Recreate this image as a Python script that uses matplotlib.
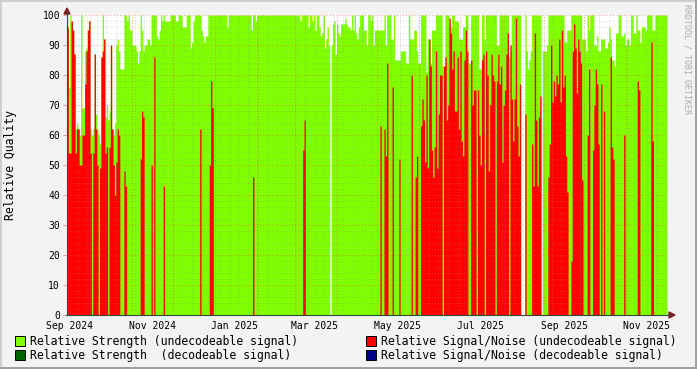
import matplotlib
matplotlib.use('Agg')
import matplotlib.pyplot as plt
import matplotlib.dates as mdates
from matplotlib.patches import Rectangle, Polygon
from matplotlib.lines import Line2D
import numpy as np
import pandas as pd

# Time axis: one value per day
start_date = '2024-09-14'
n_days = 443

# Relative Strength (undecodeable signal) - day offset: value, all other days are 100
strength_dips = {
    0: 96, 1: 76, 3: 98, 4: 95, 5: 87, 6: 62, 7: 64, 8: 62, 9: 60, 11: 69, 12: 69,
    13: 88, 14: 89, 15: 95, 16: 98, 17: 62, 18: 60, 19: 62, 20: 87, 21: 67, 22: 62,
    23: 60, 24: 57, 25: 86, 27: 92, 28: 66, 29: 70, 30: 65, 31: 68, 32: 90, 33: 62,
    34: 60, 35: 64, 36: 90, 37: 92, 38: 88, 39: 82, 40: 82, 41: 82, 44: 98, 46: 95,
    47: 95, 48: 90, 49: 90, 50: 90, 51: 88, 52: 84, 53: 88, 55: 95, 56: 88, 57: 90,
    58: 90, 59: 92, 60: 92, 61: 90, 66: 93, 67: 92, 68: 95, 70: 98, 72: 98, 73: 98,
    74: 98, 75: 98, 80: 98, 81: 98, 85: 96, 86: 96, 87: 96, 91: 89, 92: 91, 93: 98,
    99: 95, 100: 93, 101: 91, 102: 93, 103: 93, 118: 96, 136: 95, 139: 98,
    172: 98, 178: 96, 181: 98, 183: 95, 186: 96, 187: 93, 188: 94, 190: 89, 191: 92,
    192: 96, 193: 90, 194: 0, 195: 90, 196: 97, 197: 98, 198: 87, 199: 97, 200: 94,
    201: 93, 202: 97, 203: 97, 204: 97, 205: 99, 206: 97, 207: 96, 208: 96, 209: 95,
    211: 95, 213: 94, 214: 92, 215: 96,
    219: 95, 220: 95, 221: 90, 224: 98, 226: 90, 227: 95, 228: 95, 229: 95, 230: 95,
    231: 95, 232: 95, 233: 95, 235: 90, 239: 92, 240: 92, 242: 85, 243: 85, 244: 85,
    245: 85, 246: 88, 247: 88, 248: 88, 249: 88, 250: 84, 251: 84, 253: 92, 254: 92,
    255: 92, 256: 95, 257: 95, 258: 88, 259: 84, 260: 84, 265: 81, 266: 92, 267: 92,
    268: 84, 269: 95, 270: 95, 271: 95, 277: 83, 278: 80, 282: 96, 283: 96, 286: 98,
    287: 98, 288: 98, 289: 92, 290: 92, 291: 92, 292: 96, 293: 96,
    296: 84, 297: 84, 304: 82, 305: 82, 308: 92, 317: 90, 318: 90, 326: 86, 327: 88,
    335: 0, 336: 0, 337: 0, 339: 88, 340: 82, 341: 85, 342: 88, 350: 0, 351: 88,
    352: 88, 353: 88, 354: 90,
    367: 91, 368: 91, 369: 95, 370: 95, 371: 95, 380: 92, 381: 92, 382: 92, 383: 88,
    385: 95, 389: 90, 390: 90, 391: 93, 392: 88, 393: 88, 394: 92, 395: 92, 396: 92,
    397: 89, 398: 89, 399: 91, 400: 96, 401: 92, 402: 85, 403: 85, 404: 83, 405: 94,
    406: 94, 409: 93, 410: 93, 411: 94, 412: 90, 413: 92, 414: 92, 415: 90, 418: 94,
    419: 94, 421: 95, 422: 95, 423: 91, 424: 96, 425: 96, 426: 96, 427: 95, 432: 95,
    433: 95,
}

# Relative Signal/Noise (undecodeable signal) - day offset: value, all other days are 0
snr_values = {
    0: 96, 1: 54, 2: 54, 3: 98, 4: 95, 5: 87, 6: 54, 7: 62, 8: 62, 9: 50, 10: 50,
    11: 60, 12: 60, 13: 77, 14: 88, 15: 95, 16: 98, 17: 54, 19: 54, 20: 87, 21: 62,
    22: 50, 24: 49, 25: 86, 26: 88, 27: 92, 28: 54, 29: 56, 31: 56, 32: 90, 33: 62,
    34: 50, 35: 40, 36: 51, 37: 62, 38: 60, 42: 48, 43: 43, 54: 52, 55: 68, 56: 66,
    62: 50, 64: 86, 71: 43,
    98: 62, 105: 50, 106: 78, 107: 69, 137: 46, 174: 55, 175: 65,
    231: 63, 234: 62, 235: 53, 236: 84, 240: 76, 245: 52, 254: 80, 257: 46, 258: 53,
    261: 63, 262: 72, 263: 65, 264: 51, 265: 80, 266: 49, 267: 92, 268: 83, 269: 55,
    270: 46, 271: 56, 272: 88, 273: 49, 274: 67, 275: 80, 276: 80, 278: 83, 279: 86,
    280: 65, 281: 70, 282: 99, 283: 94, 284: 82, 285: 88, 286: 68, 287: 68, 288: 86,
    289: 62, 290: 88, 291: 58, 292: 53, 293: 85,
    294: 95, 295: 88, 298: 85, 299: 70, 300: 75, 301: 75, 303: 75, 304: 60, 305: 50,
    306: 85, 307: 87, 309: 88, 310: 80, 311: 48, 312: 70, 313: 87, 314: 80, 315: 78,
    317: 78, 318: 87, 319: 77, 320: 83, 321: 51, 322: 70, 323: 75, 324: 87, 325: 94,
    327: 90, 328: 72, 329: 58, 330: 72, 331: 99, 332: 63, 333: 53, 334: 77, 338: 67,
    343: 57, 344: 43, 345: 94, 346: 65, 347: 43, 348: 66, 349: 73, 355: 46, 356: 57,
    357: 90, 358: 71, 359: 78, 360: 73, 361: 80, 362: 77, 363: 92, 364: 71, 365: 95,
    366: 76,
    367: 80, 368: 53, 369: 41, 372: 18, 373: 88, 374: 97, 375: 89, 376: 74, 377: 92,
    378: 88, 379: 84, 380: 45, 384: 60, 385: 82, 388: 55, 389: 70, 390: 82, 391: 77,
    392: 57, 394: 77, 396: 68, 401: 86, 402: 56, 403: 52, 411: 60, 421: 78, 422: 75,
    431: 91, 432: 58,
}

xlabel_names = ['Sep 2024', 'Nov 2024', 'Jan 2025', 'Mar 2025',
                'May 2025', 'Jul 2025', 'Sep 2025', 'Nov 2025']
xlabel_dates = ['2024-09-16', '2024-11-16', '2025-01-16', '2025-03-16',
                '2025-05-16', '2025-07-16', '2025-09-16', '2025-11-16']

legend_names = ['Relative Strength (undecodeable signal)',
                'Relative Signal/Noise (undecodeable signal)',
                'Relative Strength  (decodeable signal)',
                'Relative Signal/Noise (decodeable signal)']
legend_colors = ['#80FF00', '#FF0000', '#006400', '#00008B']

strength = np.array([strength_dips.get(i, 100) for i in range(n_days)])
snr = np.array([snr_values.get(i, 0) for i in range(n_days)])
days = pd.date_range(start_date, periods=n_days + 1, freq='D')
x = mdates.date2num(days)

W, H = 697, 369
mono = 'DejaVu Sans Mono'


def fx(px):
    return px / W


def fy(py):
    return 1 - py / H


fig = plt.figure(figsize=(W / 100, H / 100), dpi=100, facecolor='#F3F3F3')
ax = fig.add_axes([fx(67), fy(315), 600 / W, 300 / H])
ax.set_facecolor('white')

ax.fill_between(x, np.append(strength, strength[-1]), step='post',
                color='#80FF00', lw=0, zorder=1)
ax.fill_between(x, np.append(snr, snr[-1]), step='post',
                color='#FF0000', lw=0, zorder=2)

# grid on top of data (rrdtool style), semi transparent
grid_c = '#8F8F8F'
mgrid_c = '#DE5050'
dots = (0, (1, 2))
for v in range(2, 100, 2):
    if v % 10:
        ax.axhline(v, color=grid_c, alpha=0.35, lw=0.7, ls=dots, zorder=3)
for v in range(10, 101, 10):
    ax.axhline(v, color=mgrid_c, alpha=0.55, lw=0.7, ls=dots, zorder=4)

for d in pd.date_range(start_date, days[-1], freq='W-SUN'):
    ax.axvline(mdates.date2num(d), color=grid_c, alpha=0.35, lw=0.7, ls=dots, zorder=3)
for d in pd.date_range('2024-10-01', days[-1], freq='MS'):
    ax.axvline(mdates.date2num(d), color=mgrid_c, alpha=0.55, lw=0.7, ls=dots, zorder=4)

ax.set_xlim(x[0], x[-1])
ax.set_ylim(0, 100)
for s in ax.spines.values():
    s.set_visible(False)

ax.set_yticks(range(0, 101, 10))
ax.set_yticklabels([str(v) for v in range(0, 101, 10)], fontsize=7, family=mono)
ax.tick_params(axis='y', length=3, width=0.7, color='#E8A0A0', pad=2)
ax.set_xticks(mdates.date2num(pd.to_datetime(xlabel_dates)))
ax.set_xticklabels(xlabel_names, fontsize=7, family=mono)
ax.tick_params(axis='x', length=0, pad=4)

# axis lines and arrows
axis_c = '#2C4D43'
arrow_c = '#7F1F1F'
fig.add_artist(Line2D([fx(67), fx(67)], [fy(315), fy(12)], color=axis_c, lw=0.8))
fig.add_artist(Line2D([fx(66), fx(670)], [fy(315), fy(315)], color=axis_c, lw=0.8))
fig.add_artist(Polygon([[fx(64), fy(14)], [fx(70), fy(14)], [fx(67), fy(8)]],
                       closed=True, color=arrow_c, transform=fig.transFigure))
fig.add_artist(Polygon([[fx(669), fy(312)], [fx(669), fy(318)], [fx(675), fy(315)]],
                       closed=True, color=arrow_c, transform=fig.transFigure))

# labels
fig.text(fx(11), fy(165), 'Relative Quality', rotation=90, ha='center', va='center',
         fontsize=8.3, family=mono)
fig.text(fx(687), fy(4), 'RRDTOOL / TOBI OETIKER', rotation=270, ha='center', va='top',
         fontsize=6, family=mono, color='#ABABAB')

# legend
legend_pos = [(15, 341), (366, 341), (15, 355), (366, 355)]
for (lx, ly), name, col in zip(legend_pos, legend_names, legend_colors):
    fig.add_artist(Rectangle((fx(lx), fy(ly + 5)), 10 / W, 10 / H, facecolor=col,
                             edgecolor='black', lw=0.7, transform=fig.transFigure))
    fig.text(fx(lx + 15), fy(ly), name, ha='left', va='center', fontsize=8.3, family=mono)

# 3d frame
fig.add_artist(Line2D([0, 1], [fy(0.5), fy(0.5)], color='#CFCFCF', lw=1.4))
fig.add_artist(Line2D([fx(0.5), fx(0.5)], [0, 1], color='#CFCFCF', lw=1.4))
fig.add_artist(Line2D([0, 1], [fy(368), fy(368)], color='#9E9E9E', lw=1.4))
fig.add_artist(Line2D([fx(696), fx(696)], [0, 1], color='#9E9E9E', lw=1.4))

fig.savefig('out.png', dpi=100, facecolor=fig.get_facecolor())
